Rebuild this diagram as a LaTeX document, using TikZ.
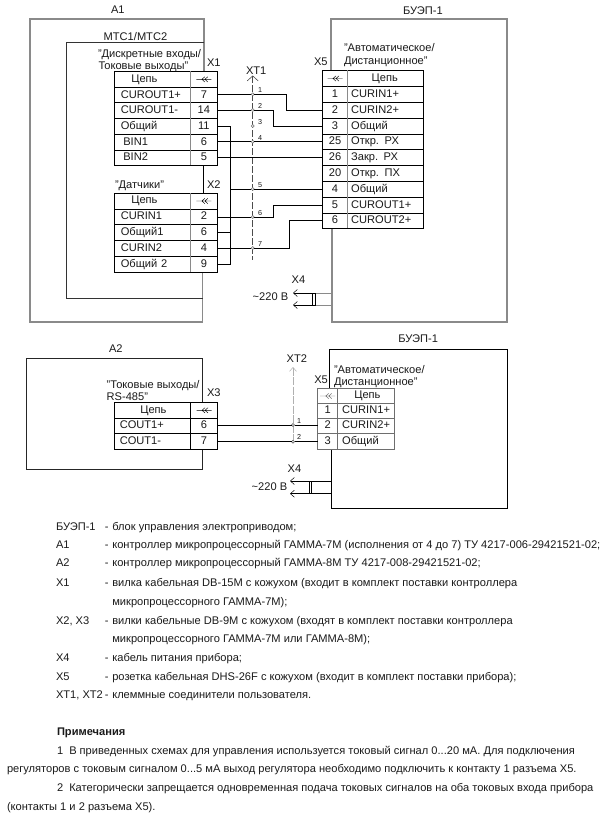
\documentclass[tikz,border=0pt]{standalone}
\usepackage{fontspec}
\setmainfont{Liberation Sans}
\usetikzlibrary{arrows.meta}
\definecolor{frameg}{HTML}{8A8A8A}
\definecolor{midg}{HTML}{6E6E6E}
\definecolor{lightg}{HTML}{B0B0B0}
\definecolor{inkc}{HTML}{1A1A1A}
\tikzset{
  txt/.style={anchor=base west,inner sep=0pt,outer sep=0pt,font=\fontsize{11.1}{13}\selectfont,text=inkc},
  tinytxt/.style={anchor=base west,inner sep=0pt,outer sep=0pt,font=\fontsize{7.2}{9}\selectfont,text=inkc},
  cellbox/.style={draw=black,line width=0.8pt,inner sep=0pt,outer sep=0pt,text height=8pt,text depth=2.2pt,font=\fontsize{11.1}{13}\selectfont,text=inkc},
  graycell/.style={cellbox,draw=midg},
  wirepath/.style={draw=black,line width=0.85pt},
  termnode/.style={circle,draw=midg,fill=white,line width=0.5pt,inner sep=0pt,outer sep=0pt,minimum size=3pt},
  framea/.style={draw=frameg,line width=1.1pt},
  frameb/.style={draw=black!80,line width=0.85pt},
  strip/.style={draw=black!70,line width=0.6pt,dash pattern=on 6.5pt off 2.5pt},
  stripb/.style={draw=lightg,line width=0.8pt,dash pattern=on 8pt off 1.5pt},
  barb/.style={{Straight Barb[length=4pt,width=7pt,line width=0.5pt]}-},
  bigbarb/.style={{Straight Barb[length=5pt,width=11pt,line width=0.6pt]}-}
}
% name, x0, y0, x1, y1, text : centred cell
\newcommand\ccell[7][cellbox]{\node[#1,minimum width={(#5-#3)*1pt},minimum height={(#6-#4)*1pt}] (#2) at ({(#3+#5)/2},{(#4+#6)/2}) {#7};}
% name, x0, y0, x1, y1, pad, text : left-aligned cell
\newcommand\lcell[8][cellbox]{\node[#1,text width={(#5-#3)*1pt},minimum height={(#6-#4)*1pt},align=left] (#2) at ({(#3+#5)/2},{(#4+#6)/2}) {\hspace*{#7pt}#8};}
\newcommand\consym[2][black]{\draw[#1,line width=0.45pt,shift={(#2.center)}] (-7.5,0) -- (7.5,0) (1,-2.6) -- (-2,0) -- (1,2.6) (4,-2.6) -- (1,0) -- (4,2.6);}
\newcommand\legline[4]{\node[txt] (#1a) at (56,#2) {#3}; \node[txt] (#1b) at (104.8,#2) {\hbox to 7.5pt{-\hss}#4};}
\begin{document}
\begin{tikzpicture}[x=1pt,y=-1pt]
\useasboundingbox (0,0) rectangle (604,817);
\fill[white] (0,0) rectangle (604,817);

% ---------- frames, upper part
\draw[framea] (202.5,322) -- (30,322) -- (30,19) -- (204,19) -- (204,71);
\draw[framea] (202.5,272) -- (202.5,322);
\draw[frameb] (204,42.5) -- (66,42.5) -- (66,298) -- (202.5,298);
\draw[framea] (331,70) -- (331,19) -- (507,19) -- (507,322) -- (332,322) -- (332,228);

% ---------- X1
\lcell{xah}{114.3}{71}{190}{87.7}{17}{Цепь}
\ccell{xahp}{190}{71}{217.7}{87.7}{}
\lcell{xaa}{114.3}{87.7}{190}{102.7}{6.5}{CUROUT1+}
\ccell{xapa}{190}{87.7}{217.7}{102.7}{7}
\lcell{xab}{114.3}{102.7}{190}{118.3}{6.5}{CUROUT1-}
\ccell{xapb}{190}{102.7}{217.7}{118.3}{14}
\lcell{xac}{114.3}{118.3}{190}{134.3}{6.5}{Общий}
\ccell{xapc}{190}{118.3}{217.7}{134.3}{11}
\lcell{xad}{114.3}{134.3}{190}{150.3}{9}{BIN1}
\ccell{xapd}{190}{134.3}{217.7}{150.3}{6}
\lcell{xae}{114.3}{150.3}{190}{165.3}{9}{BIN2}
\ccell{xape}{190}{150.3}{217.7}{165.3}{5}
\draw[frameg,line width=1pt] (xahp.north west) -- (xape.south west);
\consym{xahp}

% ---------- X2
\lcell{xbh}{114.3}{193}{190}{209}{17}{Цепь}
\ccell{xbhp}{190}{193}{217.7}{209}{}
\lcell{xba}{114.3}{209}{190}{224}{6.5}{CURIN1}
\ccell{xbpa}{190}{209}{217.7}{224}{2}
\lcell{xbb}{114.3}{224}{190}{240.7}{6.5}{Общий1}
\ccell{xbpb}{190}{224}{217.7}{240.7}{6}
\lcell{xbc}{114.3}{240.7}{190}{256.7}{6.5}{CURIN2}
\ccell{xbpc}{190}{240.7}{217.7}{256.7}{4}
\lcell{xbd}{114.3}{256.7}{190}{272.3}{6.5}{Общий 2}
\ccell{xbpd}{190}{256.7}{217.7}{272.3}{9}
\draw[frameg,line width=1pt] (xbhp.north west) -- (xbpd.south west);
\consym{xbhp}
\draw[black,line width=0.8pt] (xape.south) -- (xbhp.north);

% ---------- X5 upper
\ccell{xch}{322.3}{70.3}{347.7}{86.7}{}
\lcell{xchc}{347.7}{70.3}{423.7}{86.7}{24}{Цепь}
\ccell{xca}{322.3}{86.7}{347.7}{102.7}{1}
\lcell{xcat}{347.7}{86.7}{423.7}{102.7}{3.5}{CURIN1+}
\ccell{xcb}{322.3}{102.7}{347.7}{118.7}{2}
\lcell{xcbt}{347.7}{102.7}{423.7}{118.7}{3.5}{CURIN2+}
\ccell{xcc}{322.3}{118.7}{347.7}{134.3}{3}
\lcell{xcct}{347.7}{118.7}{423.7}{134.3}{3.5}{Общий}
\ccell{xcd}{322.3}{134.3}{347.7}{149.7}{25}
\lcell{xcdt}{347.7}{134.3}{423.7}{149.7}{3.5}{Откр. РХ}
\ccell{xce}{322.3}{149.7}{347.7}{165.7}{26}
\lcell{xcet}{347.7}{149.7}{423.7}{165.7}{3.5}{Закр. РХ}
\ccell{xcf}{322.3}{165.7}{347.7}{181.7}{20}
\lcell{xcft}{347.7}{165.7}{423.7}{181.7}{3.5}{Откр. ПХ}
\ccell{xcg}{322.3}{181.7}{347.7}{197.3}{4}
\lcell{xcgt}{347.7}{181.7}{423.7}{197.3}{3.5}{Общий}
\ccell{xci}{322.3}{197.3}{347.7}{213.3}{5}
\lcell{xcit}{347.7}{197.3}{423.7}{213.3}{3.5}{CUROUT1+}
\ccell{xcj}{322.3}{213.3}{347.7}{228.3}{6}
\lcell{xcjt}{347.7}{213.3}{423.7}{228.3}{3.5}{CUROUT2+}
\draw[frameg,line width=1pt] (xch.north east) -- (xcj.south east);
\consym{xch}

% ---------- XT1
\coordinate (xtatop) at (252.7,75.5);
\coordinate (xtabot) at (252.7,260);
\draw[strip,bigbarb] (xtatop) -- (xtabot);
\node[termnode] (ta) at (252.7,94.3) {};
\node[termnode] (tb) at (252.7,110) {};
\node[termnode] (tc) at (252.7,126) {};
\node[termnode] (td) at (252.7,141.7) {};
\node[termnode] (te) at (252.7,189) {};
\node[termnode] (tf) at (252.7,217) {};
\node[termnode] (tg) at (252.7,248) {};
\node[tinytxt] (tal) at (258,92) {1};
\node[tinytxt] (tbl) at (258,108) {2};
\node[tinytxt] (tcl) at (258,124) {3};
\node[tinytxt] (tdl) at (258,140) {4};
\node[tinytxt] (tel) at (258,187) {5};
\node[tinytxt] (tfl) at (258,215) {6};
\node[tinytxt] (tgl) at (258,246) {7};
\coordinate (busa) at (230.7,189);

% wires upper
\draw[wirepath] (xapa.east |- ta) -- (ta);
\draw[wirepath] (ta) -- ++(33.3,0) |- (xcb.west);
\draw[wirepath] (xapb.east |- tb) -- (tb);
\draw[wirepath] (tb) -- ++(20.8,0) |- (xcc.west);
\draw[wirepath] (xapc.east) -| (busa);
\draw[wirepath] (busa |- xbpd.east) -- (xbpd.east);
\draw[wirepath] (busa) -- (busa |- xbpd.east);
\draw[wirepath] (xbpb.east) -- (busa |- xbpb.east);
\draw[wirepath] (busa) -- (te);
\draw[wirepath] (te) -- (xcg.west |- te);
\draw[wirepath] (xapd.east |- td) -- (td);
\draw[wirepath] (td) -- (xcd.west |- td);
\draw[wirepath] (xape.east) -- (xce.west |- xape.east);
\draw[wirepath] (xbpa.east |- tf) -- (tf);
\draw[wirepath] (tf) -- ++(20.8,0) |- (xci.west);
\draw[wirepath] (xbpc.east |- tg) -- (tg);
\draw[wirepath] (tg) -- ++(36.3,0) |- (xcj.west);

% ---------- X4 upper
\coordinate (xda) at (293,293);
\coordinate (xdb) at (293,305);
\coordinate (xdae) at (332,293);
\coordinate (xdbe) at (332,305);
\draw[black,line width=0.6pt,barb] (xda) -- (xdae);
\draw[black,line width=0.6pt,barb] (xdb) -- (xdbe);
\draw[frameg,line width=1pt] (315.7,293) -- (xdae) (315.7,305) -- (xdbe);
\draw[black,line width=0.6pt] (312.3,293) rectangle (315.7,305);

% ---------- frames, lower part
\draw[black!85,line width=0.85pt] (202.5,402) -- (202.5,358.3) -- (26.5,358.3) -- (26.5,469.3) -- (202.5,469.3) -- (202.5,449);
\draw[black,line width=0.85pt] (329.3,388.3) -- (329.3,349.3) -- (507,349.3) -- (507,508.3) -- (331.7,508.3) -- (331.7,449);

% ---------- X3
\lcell{xfh}{114.3}{402.3}{190.3}{418.3}{26}{Цепь}
\ccell{xfhp}{190.3}{402.3}{217.7}{418.3}{}
\lcell{xfa}{114.3}{418.3}{190.3}{433.3}{5.5}{COUT1+}
\ccell{xfpa}{190.3}{418.3}{217.7}{433.3}{6}
\lcell{xfb}{114.3}{433.3}{190.3}{449.3}{5.5}{COUT1-}
\ccell{xfpb}{190.3}{433.3}{217.7}{449.3}{7}
\consym{xfhp}

% ---------- X5 lower
\ccell[graycell]{xgh}{317.7}{388.3}{337.7}{403.7}{}
\lcell[graycell]{xght}{337.7}{388.3}{394.7}{403.7}{16.6}{Цепь}
\ccell[graycell]{xga}{317.7}{403.7}{337.7}{418.3}{1}
\lcell[graycell]{xgat}{337.7}{403.7}{394.7}{418.3}{4.5}{CURIN1+}
\ccell[graycell]{xgb}{317.7}{418.3}{337.7}{433.7}{2}
\lcell[graycell]{xgbt}{337.7}{418.3}{394.7}{433.7}{4.5}{CURIN2+}
\ccell[graycell]{xgc}{317.7}{433.7}{337.7}{449.3}{3}
\lcell[graycell]{xgct}{337.7}{433.7}{394.7}{449.3}{4.5}{Общий}
\consym[midg]{xgh}

% ---------- XT2
\coordinate (xttop) at (293,367);
\coordinate (xtbot) at (293,441.7);
\draw[stripb,barb] (xttop) -- (xtbot);
\node[termnode,draw=black!70] (ua) at (293,425) {};
\node[termnode,draw=black!70] (ub) at (293,441.7) {};
\node[tinytxt] (ual) at (297,423) {1};
\node[tinytxt] (ubl) at (297,439) {2};
\draw[wirepath] (xfpa.east |- ua) -- (ua);
\draw[wirepath] (ua) -- (xgb.west |- ua);
\draw[wirepath] (xfpb.east |- ub) -- (ub);
\draw[wirepath] (ub) -- (xgc.west |- ub);

% ---------- X4 lower
\coordinate (xha) at (290,481);
\coordinate (xhb) at (290,493.7);
\coordinate (xhae) at (331.7,481);
\coordinate (xhbe) at (331.7,493.7);
\draw[black,line width=0.7pt,barb] (xha) -- (xhae);
\draw[black,line width=0.7pt,barb] (xhb) -- (xhbe);
\draw[black,line width=0.6pt] (309.3,481) rectangle (311.5,493.7);

% ---------- diagram labels
\node[txt] (la) at (111,13.5) {А1};
\node[txt] (lb) at (103.7,40.5) {МТС1/МТС2};
\node[txt] (lc) at (98,57) {"Дискретные входы/};
\node[txt] (ld) at (98.5,69.5) {Токовые выходы"};
\node[txt] (le) at (207,66) {Х1};
\node[txt] (lf) at (246,74) {ХТ1};
\node[txt] (lg) at (115,188.7) {"Датчики"};
\node[txt] (lh) at (207,188.5) {Х2};
\node[txt] (li) at (403,14) {БУЭП-1};
\node[txt] (lj) at (344,51.7) {"Автоматическое/};
\node[txt] (lk) at (344,64) {Дистанционное"};
\node[txt] (ll) at (314,65) {Х5};
\node[txt] (lm) at (291.7,283.7) {Х4};
\node[txt] (ln) at (252.7,300.7) {\textasciitilde220 В};
\node[txt] (lo) at (109,352) {А2};
\node[txt] (lp) at (106.7,388.7) {"Токовые выходы/};
\node[txt] (lq) at (106.7,400.7) {RS-485"};
\node[txt] (lr) at (207,396) {Х3};
\node[txt] (ls) at (286.7,362.3) {ХТ2};
\node[txt] (lt) at (398.3,342.7) {БУЭП-1};
\node[txt] (lu) at (334,373.3) {"Автоматическое/};
\node[txt] (lv) at (334,385.7) {Дистанционное"};
\node[txt] (lw) at (314.3,383.3) {Х5};
\node[txt] (lx) at (287.7,472.3) {Х4};
\node[txt] (ly) at (251.7,490) {\textasciitilde220 В};

% ---------- legend
\legline{ra}{530}{БУЭП-1}{блок управления электроприводом;}
\legline{rb}{548.3}{А1}{контроллер микропроцессорный ГАММА-7М (исполнения от 4 до 7) ТУ 4217-006-29421521-02;}
\legline{rc}{566.7}{А2}{контроллер микропроцессорный ГАММА-8М ТУ 4217-008-29421521-02;}
\legline{rd}{586}{Х1}{вилка кабельная DB-15M с кожухом (входит в комплект поставки контроллера}
\node[txt] (re) at (112.3,605) {микропроцессорного ГАММА-7М);};
\legline{rf}{624.3}{Х2, Х3}{вилки кабельные DB-9M с кожухом (входят в комплект поставки контроллера}
\node[txt] (rg) at (112.3,642.7) {микропроцессорного ГАММА-7М или ГАММА-8М);};
\legline{rh}{661.7}{Х4}{кабель питания прибора;}
\legline{ri}{680.7}{Х5}{розетка кабельная DHS-26F с кожухом (входит в комплект поставки прибора);}
\legline{rj}{698.7}{ХТ1, ХТ2}{клеммные соединители пользователя.}

% ---------- notes
\node[txt,font=\fontsize{11.1}{13}\selectfont\bfseries] (na) at (57,735) {Примечания};
\node[txt] (nb) at (57,754) {1\hspace{3pt} В приведенных схемах для управления используется токовый сигнал 0...20 мА. Для подключения};
\node[txt] (nc) at (7,772.7) {регуляторов с токовым сигналом 0...5 мА выход регулятора необходимо подключить к контакту 1 разъема Х5.};
\node[txt] (nd) at (57,791) {2\hspace{3pt} Категорически запрещается одновременная подача токовых сигналов на оба токовых входа прибора};
\node[txt] (ne) at (7,810) {(контакты 1 и 2 разъема Х5).};
\end{tikzpicture}
\end{document}
